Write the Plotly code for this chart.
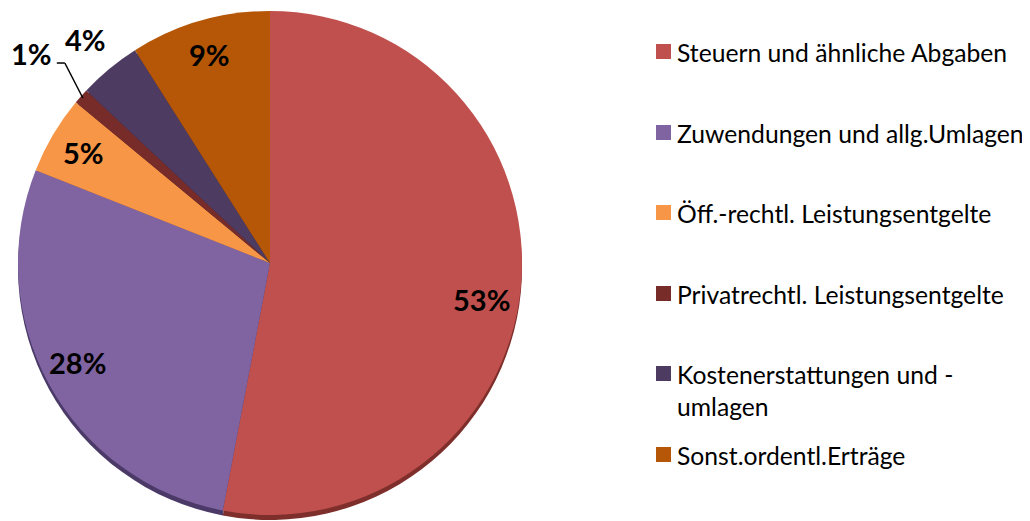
import math
import plotly.graph_objects as go

W, H = 1030, 521
PAD = 8  # page body margin
FW, FH = W - PAD, H - PAD

categories = [
    "Steuern und ähnliche Abgaben",
    "Zuwendungen und allg.Umlagen",
    "Öff.-rechtl. Leistungsentgelte",
    "Privatrechtl. Leistungsentgelte",
    "Kostenerstattungen und -<br>umlagen",
    "Sonst.ordentl.Erträge",
]
values = [53, 28, 5, 1, 4, 9]
pct_labels = ["53%", "28%", "5%", "1%", "4%", "9%"]
colors = ["#C0504D", "#8064A2", "#F79646", "#772C2A", "#4D3B62", "#B65708"]
side_colors = ["#7E2F2C", "#4B3A68", "#A5612A", "#4A1A19", "#2E223F", "#723605"]

# layout (screen pixels)
cx, cy, R = 270, 263, 252
label_r = [0.85, 0.86, 0.86, 1.26, 1.15, 0.86]
label_da = [4.5, 1.5, 0, 0, 0, 0]  # degrees of angular nudge for label placement
legend_x = 656
legend_y = [52, 133, 213, 294, 374, 455]

def px(x):
    return min(max((x - PAD) / FW, 0), 1)

def py(y):
    return min(max(1 - (y - PAD) / FH, 0), 1)

fig = go.Figure()

# 3D side (shadow) of the pie
off = 5
fig.add_trace(go.Pie(
    values=values, labels=categories, sort=False, direction="clockwise",
    rotation=0, marker=dict(colors=side_colors, line=dict(width=0)),
    textinfo="none", hoverinfo="skip", showlegend=False,
    domain=dict(x=[px(cx - R), px(cx + R)], y=[py(cy + R + off), py(cy - R + off)]),
))
fig.add_trace(go.Pie(
    values=values, labels=categories, sort=False, direction="clockwise",
    rotation=0, marker=dict(colors=colors, line=dict(width=0)),
    textinfo="none", showlegend=False,
    domain=dict(x=[px(cx - R), px(cx + R)], y=[py(cy + R), py(cy - R)]),
))

annotations = []
shapes = []
total = sum(values)
cum = 0
for i, v in enumerate(values):
    mid = (cum + v / 2) / total * 2 * math.pi
    cum += v
    ang = mid + math.radians(label_da[i])
    r = R * label_r[i]
    lx = cx + r * math.sin(ang)
    ly = cy - r * math.cos(ang)
    annotations.append(dict(
        x=px(lx), y=py(ly), xref="paper", yref="paper", text=pct_labels[i],
        showarrow=False, font=dict(family="Lato", size=29, color="#000000", weight="bold"),
        xanchor="center", yanchor="middle",
    ))
    if label_r[i] > 1.2:
        ex = cx + R * 0.99 * math.sin(mid)
        ey = cy - R * 0.99 * math.cos(mid)
        hx0 = lx + 25
        hx1 = lx + 33
        hy = ly + 10
        shapes.append(dict(type="line", xref="paper", yref="paper",
                           x0=px(hx0), y0=py(hy), x1=px(hx1), y1=py(hy),
                           line=dict(color="#000000", width=1.5)))
        shapes.append(dict(type="line", xref="paper", yref="paper",
                           x0=px(hx1), y0=py(hy), x1=px(ex), y1=py(ey),
                           line=dict(color="#000000", width=1.5)))

# manual legend
for i, name in enumerate(categories):
    y = legend_y[i]
    shapes.append(dict(type="rect", xref="paper", yref="paper",
                       x0=px(legend_x), x1=px(legend_x + 15),
                       y0=py(y + 7), y1=py(y - 8),
                       fillcolor=colors[i], line=dict(width=0)))
    annotations.append(dict(
        x=px(legend_x + 19), y=py(y - 16), xref="paper", yref="paper",
        text=name, showarrow=False, align="left",
        font=dict(family="Lato", size=24.7, color="#000000"),
        xanchor="left", yanchor="top",
    ))

fig.update_layout(
    width=FW, height=FH,
    margin=dict(l=0, r=0, t=0, b=0),
    paper_bgcolor="white", plot_bgcolor="white",
    showlegend=False,
    annotations=annotations, shapes=shapes,
)

fig.write_html("out.html")
